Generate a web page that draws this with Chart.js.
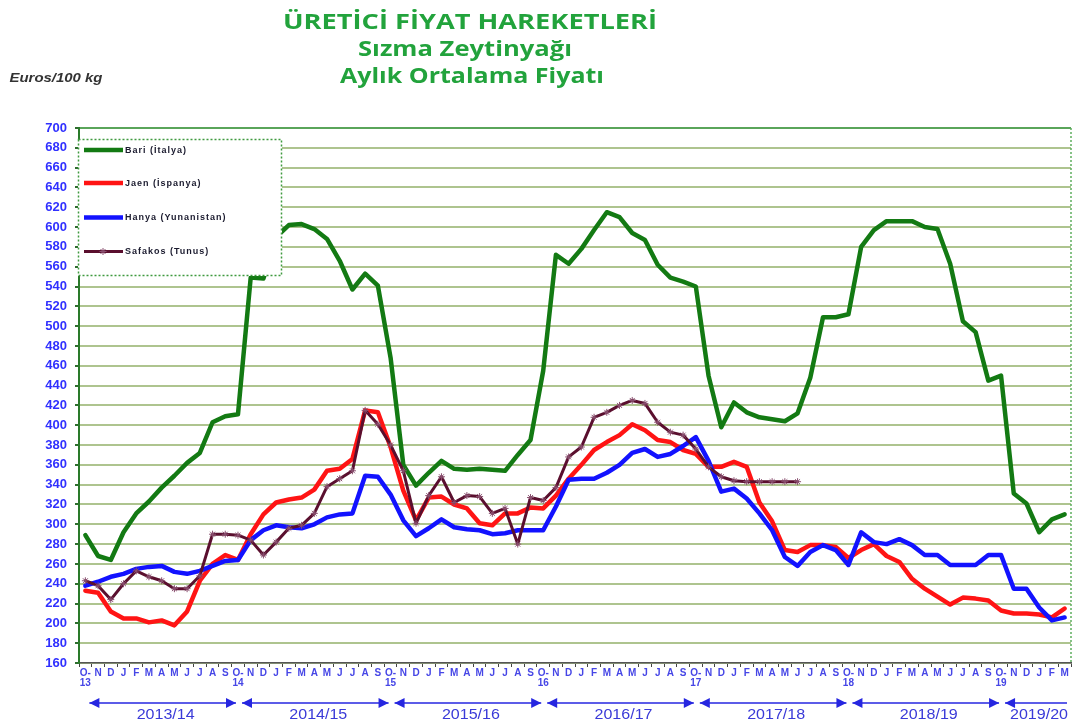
<!DOCTYPE html>
<html>
<head>
<meta charset="utf-8">
<script src="https://cdn.jsdelivr.net/npm/chart.js@4.4.1/dist/chart.umd.min.js"></script>
<style>
  html, body { margin: 0; padding: 0; background: #fff; }
  #adminChart { display: block; }
</style>
</head>
<body>
<canvas id="adminChart" width="1079" height="724"></canvas>
<script>
// Ay harfleri (Ekim'den Eylül'e) ve sezon yılları
const monthLetters = ["O", "N", "D", "J", "F", "M", "A", "M", "J", "J", "A", "S"];
const seasonYears = ["13", "14", "15", "16", "17", "18", "19"];
const seasons = ["2013/14", "2014/15", "2015/16", "2016/17", "2017/18", "2018/19", "2019/20"];
const seriesNames = ["Bari (İtalya)", "Jaen (İspanya)", "Hanya (Yunanistan)", "Safakos (Tunus)"];
const yMin = 160, yMax = 700, yStep = 20;

// Euros/100 kg, Ekim 2013 - Mart 2020
const bari = [289, 268, 264, 292, 311, 323, 337, 349, 362, 372, 403, 409,
              411, 549, 548, 590, 602, 603, 598, 588, 566, 537, 553, 541,
              468, 360, 339, 352, 364, 356, 355, 356, 355, 354, 370, 385,
              455, 572, 563, 578, 597, 615, 610, 594, 587, 562, 549, 545,
              540, 450, 398, 423, 413, 408, 406, 404, 412, 448, 509, 509,
              512, 580, 597, 606, 606, 606, 600, 598, 563, 505, 494, 445,
              450, 331, 321, 292, 305, 310];
const jaen = [233, 231, 212, 205, 205, 201, 203, 198, 212, 243, 260, 269,
              264, 290, 310, 322, 325, 327, 335, 354, 356, 366, 415, 413,
              378, 334, 304, 327, 328, 320, 316, 301, 299, 311, 311, 317,
              316, 329, 346, 360, 375, 383, 390, 401, 395, 385, 383, 375,
              371, 358, 358, 363, 358, 322, 303, 274, 272, 279, 279, 277,
              266, 274, 280, 268, 262, 245, 235, 227, 219, 226, 225, 223,
              213, 210, 210, 209, 206, 215];
const hanya = [238, 242, 247, 250, 255, 257, 258, 252, 250, 253, 258, 263,
               264, 284, 294, 299, 297, 296, 300, 307, 310, 311, 349, 348,
               330, 304, 288, 296, 305, 297, 295, 294, 290, 291, 294, 294,
               294, 318, 345, 346, 346, 352, 360, 372, 376, 368, 371, 379,
               388, 364, 333, 336, 326, 311, 294, 267, 258, 272, 279, 274,
               259, 292, 282, 280, 285, 279, 269, 269, 259, 259, 259, 269,
               269, 235, 235, 216, 203, 206];
const safakos = [243, 238, 224, 240, 253, 247, 243, 235, 235, 248, 290, 290,
                 289, 284, 269, 282, 296, 299, 311, 338, 346, 354, 415, 401,
                 380, 354, 301, 329, 348, 322, 329, 328, 311, 316, 280, 327,
                 324, 337, 368, 378, 408, 413, 420, 425, 422, 403, 393, 390,
                 376, 358, 348, 344, 343, 343, 343, 343, 343, null, null, null,
                 null, null, null, null, null, null, null, null, null, null, null, null,
                 null, null, null, null, null, null];

// Eksen etiketleri: Ekim "O-" + yıl, diğer aylar harf
const labels = bari.map((_, i) => {
    const m = i % 12;
    return m === 0 ? [monthLetters[0] + "-", seasonYears[i / 12]] : monthLetters[m];
});

// Metni verilen genişliğe yatay olarak sığdır
function fitText(ctx, text, cx, baseY, width, font, color) {
    ctx.save();
    ctx.font = font;
    ctx.fillStyle = color;
    ctx.textAlign = "center";
    ctx.textBaseline = "alphabetic";
    const w = ctx.measureText(text).width;
    ctx.translate(cx, baseY);
    ctx.scale(width / w, 1);
    ctx.fillText(text, 0, 0);
    ctx.restore();
}

function arrowHead(ctx, x, y, dir) {
    ctx.beginPath();
    ctx.moveTo(x, y);
    ctx.lineTo(x - dir * 10, y - 5);
    ctx.lineTo(x - dir * 10, y + 5);
    ctx.closePath();
    ctx.fill();
}

const decor = {
    id: "decor",
    beforeDraw(chart) {
        const ctx = chart.ctx;
        ctx.save();
        ctx.fillStyle = "#fff";
        ctx.fillRect(0, 0, chart.width, chart.height);
        ctx.restore();
    },
    afterDraw(chart) {
        const ctx = chart.ctx;
        const area = chart.chartArea;
        const x = chart.scales.x;

        // Başlıklar
        const green = "#22a33c";
        fitText(ctx, "ÜRETİCİ FİYAT HAREKETLERİ", 470, 29, 374, "bold 21px 'Open Sans'", green);
        fitText(ctx, "Sızma Zeytinyağı", 465, 56, 214, "bold 21px 'Open Sans'", green);
        fitText(ctx, "Aylık Ortalama Fiyatı", 472, 83, 264, "bold 21px 'Open Sans'", green);
        fitText(ctx, "Euros/100 kg", 56, 82, 93, "italic bold 12px 'Liberation Sans'", "#333");

        // Sağ kenar (noktalı)
        ctx.save();
        ctx.strokeStyle = "#5fae5f";
        ctx.lineWidth = 1.5;
        ctx.setLineDash([2, 2]);
        ctx.beginPath();
        ctx.moveTo(area.right, area.top);
        ctx.lineTo(area.right, area.bottom);
        ctx.stroke();
        ctx.restore();

        // Lejant
        ctx.save();
        ctx.fillStyle = "#fff";
        ctx.fillRect(78, 139, 204, 137);
        ctx.strokeStyle = "#3f9a3f";
        ctx.lineWidth = 1.5;
        ctx.setLineDash([2, 2]);
        ctx.strokeRect(78.5, 139.5, 203, 136);
        ctx.setLineDash([]);
        const rows = [150, 183, 217.5, 251.5];
        chart.data.datasets.forEach((ds, i) => {
            const y = rows[i];
            ctx.strokeStyle = ds.borderColor;
            ctx.lineWidth = ds.borderWidth;
            ctx.beginPath();
            ctx.moveTo(84, y);
            ctx.lineTo(123, y);
            ctx.stroke();
            if (ds.pointRadius) {
                ctx.strokeStyle = ds.pointBorderColor;
                ctx.fillStyle = ds.pointBackgroundColor;
                ctx.lineWidth = ds.pointBorderWidth;
                Chart.helpers.drawPoint(ctx, {
                    pointStyle: ds.pointStyle, radius: ds.pointRadius, rotation: 0,
                    borderWidth: ds.pointBorderWidth
                }, 103, y);
            }
            ctx.font = "bold 9px 'Liberation Sans'";
            if ("letterSpacing" in ctx) ctx.letterSpacing = "1px";
            ctx.fillStyle = "#1a1a2e";
            ctx.textAlign = "left";
            ctx.textBaseline = "middle";
            ctx.fillText(ds.label, 125, y + 0.5);
            if ("letterSpacing" in ctx) ctx.letterSpacing = "0px";
        });
        ctx.restore();

        // Sezon okları
        ctx.save();
        ctx.strokeStyle = "#2626e0";
        ctx.fillStyle = "#2626e0";
        ctx.lineWidth = 1.5;
        const ay = 703;
        seasons.forEach((s, k) => {
            const left = x.getPixelForValue(k * 12) + 4;
            const last = (k + 1) * 12 >= labels.length;
            const right = last ? area.right - 4 : x.getPixelForValue((k + 1) * 12) - 2;
            ctx.beginPath();
            ctx.moveTo(left, ay);
            ctx.lineTo(right, ay);
            ctx.stroke();
            arrowHead(ctx, left, ay, -1);
            if (!last) arrowHead(ctx, right, ay, 1);
            const w = 58;
            const cx = Math.min((left + right) / 2 + 3, chart.width - 2 - w / 2);
            fitText(ctx, s, cx, 719, w, "14px 'Liberation Sans'", "#3a3ad8");
        });
        ctx.restore();
    }
};

function createPriceChart() {
    const ctx = document.getElementById("adminChart").getContext("2d");

    window.priceChart = new Chart(ctx, {
        type: "line",
        data: {
            labels: labels,
            datasets: [
                { label: seriesNames[0], data: bari, borderColor: "#137a13", borderWidth: 4.5, pointRadius: 0, order: 3 },
                { label: seriesNames[1], data: jaen, borderColor: "#ff1414", borderWidth: 4.5, pointRadius: 0, order: 2 },
                { label: seriesNames[2], data: hanya, borderColor: "#1212ff", borderWidth: 4.5, pointRadius: 0, order: 1 },
                {
                    label: seriesNames[3], data: safakos, borderColor: "#5a0f2e", borderWidth: 3,
                    pointStyle: "star", pointRadius: 3.5, pointBorderColor: "#8a5070",
                    pointBorderWidth: 1, pointBackgroundColor: "#8a5070", order: 0
                }
            ]
        },
        options: {
            responsive: false,
            animation: false,
            devicePixelRatio: 1,
            layout: { padding: { top: 128, right: 8, left: 0, bottom: 0 } },
            elements: { line: { tension: 0, borderJoinStyle: "round", borderCapStyle: "round" } },
            plugins: { legend: { display: false }, tooltip: { enabled: false } },
            scales: {
                x: {
                    offset: true,
                    grid: { offset: true, drawOnChartArea: false, drawTicks: true, tickLength: 4, color: "#444", lineWidth: 1 },
                    border: { color: "#555", width: 1.5 },
                    ticks: {
                        autoSkip: false, maxRotation: 0, minRotation: 0, padding: 1,
                        color: "#4646e6",
                        font: { family: "'Liberation Sans'", size: 10, weight: "bold", lineHeight: 1.0 }
                    },
                    afterFit(scale) { scale.height = 61; }
                },
                y: {
                    min: yMin, max: yMax,
                    ticks: {
                        stepSize: yStep, padding: 8, color: "#3030ff",
                        font: { family: "'Liberation Sans'", size: 13, weight: "bold" }
                    },
                    grid: {
                        color: c => (c.tick && c.tick.value === yMax ? "#5aa55a" : "#aec48f"),
                        lineWidth: 2, tickLength: 4, tickColor: "#2f6e2f"
                    },
                    border: { color: "#2a7a2a", width: 2 },
                    afterFit(scale) { scale.width = 79; }
                }
            }
        },
        plugins: [decor]
    });
}

document.addEventListener("DOMContentLoaded", createPriceChart);
</script>
</body>
</html>
